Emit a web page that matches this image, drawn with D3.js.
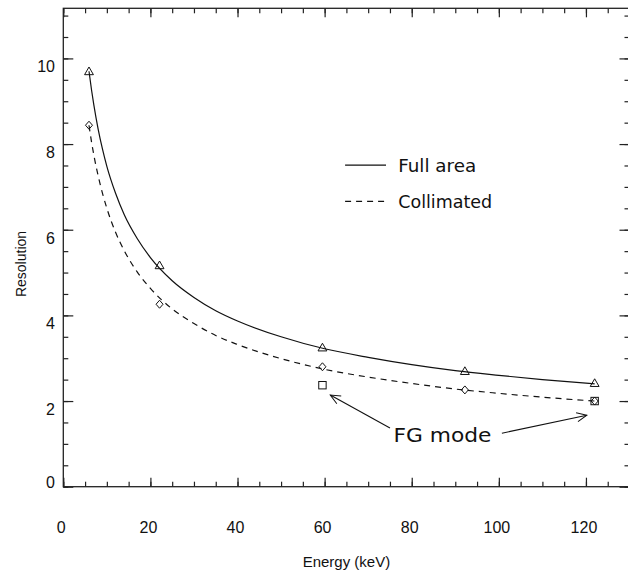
<!DOCTYPE html>
<html>
<head>
<meta charset="utf-8">
<script src="https://cdn.jsdelivr.net/npm/d3@7"></script>
<style>
  body { margin: 0; background: #fff; }
  svg { display: block; }
  .frame line, .frame path { stroke: #222; }
  .ticklab { font-family: "Liberation Sans", Arial, sans-serif; font-size: 16px; fill: #111; }
  .hershey { font-family: "DejaVu Sans", sans-serif; font-weight: normal; fill: #111; }
</style>
</head>
<body>
<svg id="chart" width="628" height="576"></svg>
<script>
// measured points (energy keV, resolution)
var pointEnergy = [5.9, 22.1, 59.5, 92.2, 122];
var fullArea   = [9.68, 5.15, 3.23, 2.68, 2.40];
var collimated = [8.44, 4.26, 2.80, 2.26, 2.00];
var fgEnergy = [59.5, 122];
var fgMode   = [2.37, 2.00];

// fitted curves
var curveEnergy = [5.9, 6.5, 7, 8, 9, 10, 12, 14, 17, 20, 25, 30, 35, 40, 50, 60, 70, 80, 90, 100, 110, 122];
var fullCurve   = [9.70, 9.25, 8.92, 8.35, 7.88, 7.48, 6.85, 6.35, 5.79, 5.35, 4.81, 4.42, 4.11, 3.87, 3.50, 3.22, 3.02, 2.85, 2.71, 2.60, 2.50, 2.40];
var collCurve   = [8.44, 8.04, 7.75, 7.26, 6.85, 6.50, 5.94, 5.51, 5.01, 4.63, 4.15, 3.81, 3.53, 3.32, 2.99, 2.74, 2.56, 2.41, 2.28, 2.18, 2.09, 2.00];

var xTicks = [0, 20, 40, 60, 80, 100, 120];
var yTicks = [0, 2, 4, 6, 8, 10];

var svg = d3.select("#chart");
var x = d3.scaleLinear().domain([0, 130]).range([63.3, 629.5]);
var y = d3.scaleLinear().domain([0, 11.17]).range([486.7, 8.3]);

var minorX = d3.range(0, 131, 5);
var minorY = d3.range(0, 11.1, 0.5);

function axisGroup(axis, tr) {
  var g = svg.append("g").attr("class", "frame").attr("transform", tr).call(axis);
  g.select(".domain").remove();
  g.selectAll("text").remove();
  g.selectAll("line").attr("stroke", "#222").attr("stroke-width", 1.2);
  return g;
}
// minor ticks
axisGroup(d3.axisBottom(x).tickValues(minorX).tickSize(-5).tickSizeOuter(0), "translate(0," + y(0) + ")");
axisGroup(d3.axisTop(x).tickValues(minorX).tickSize(-5).tickSizeOuter(0), "translate(0," + y.range()[1] + ")");
axisGroup(d3.axisLeft(y).tickValues(minorY).tickSize(-5).tickSizeOuter(0), "translate(" + x(0) + ",0)");
axisGroup(d3.axisRight(y).tickValues(minorY).tickSize(-5).tickSizeOuter(0), "translate(" + x.range()[1] + ",0)");
// major ticks
axisGroup(d3.axisBottom(x).tickValues(xTicks).tickSize(-9).tickSizeOuter(0), "translate(0," + y(0) + ")");
axisGroup(d3.axisTop(x).tickValues(xTicks).tickSize(-9).tickSizeOuter(0), "translate(0," + y.range()[1] + ")");
axisGroup(d3.axisLeft(y).tickValues(yTicks).tickSize(-10).tickSizeOuter(0), "translate(" + x(0) + ",0)");
axisGroup(d3.axisRight(y).tickValues(yTicks).tickSize(-10).tickSizeOuter(0), "translate(" + x.range()[1] + ",0)");

// frame
svg.append("rect")
  .attr("x", x(0)).attr("y", y.range()[1])
  .attr("width", x.range()[1] - x(0)).attr("height", y(0) - y.range()[1])
  .attr("fill", "none").attr("stroke", "#222").attr("stroke-width", 1.3);

// tick labels
svg.selectAll("text.xl").data(xTicks).enter().append("text")
  .attr("class", "ticklab").attr("text-anchor", "middle")
  .attr("x", function(d) { return x(d) - 2; }).attr("y", 533)
  .text(function(d) { return d; });
svg.selectAll("text.yl").data(yTicks).enter().append("text")
  .attr("class", "ticklab").attr("text-anchor", "end")
  .attr("x", 55)
  .attr("y", function(d) { return d === 0 ? y(d) + 1 : y(d) + 14; })
  .text(function(d) { return d; });

svg.append("text").attr("class", "ticklab").attr("text-anchor", "middle")
  .attr("x", x(65)).attr("y", 567).style("font-size", "15px").text("Energy (keV)");
svg.append("text").attr("class", "ticklab").attr("text-anchor", "middle")
  .attr("transform", "translate(26," + 264 + ") rotate(-90)")
  .style("font-size", "14px").text("Resolution");

// curves
var line = d3.line().curve(d3.curveMonotoneX)
  .x(function(d) { return x(d[0]); }).y(function(d) { return y(d[1]); });
svg.append("path").datum(d3.zip(curveEnergy, fullCurve)).attr("d", line)
  .attr("fill", "none").attr("stroke", "#111").attr("stroke-width", 1.2);
svg.append("path").datum(d3.zip(curveEnergy, collCurve)).attr("d", line)
  .attr("fill", "none").attr("stroke", "#111").attr("stroke-width", 1.2)
  .attr("stroke-dasharray", "6,5");

// markers
var tri = d3.symbol().type(d3.symbolTriangle).size(34);
svg.selectAll("path.tri").data(d3.zip(pointEnergy, fullArea)).enter().append("path")
  .attr("d", tri)
  .attr("transform", function(d) { return "translate(" + x(d[0]) + "," + y(d[1]) + ")"; })
  .attr("fill", "none").attr("stroke", "#111").attr("stroke-width", 1);
svg.selectAll("path.dia").data(d3.zip(pointEnergy, collimated)).enter().append("path")
  .attr("d", "M0,-4L3.5,0L0,4L-3.5,0Z")
  .attr("transform", function(d) { return "translate(" + x(d[0]) + "," + y(d[1]) + ")"; })
  .attr("fill", "none").attr("stroke", "#111").attr("stroke-width", 1);
svg.selectAll("rect.sq").data(d3.zip(fgEnergy, fgMode)).enter().append("rect")
  .attr("x", function(d) { return x(d[0]) - 3.7; })
  .attr("y", function(d) { return y(d[1]) - 3.7; })
  .attr("width", 7.4).attr("height", 7.4)
  .attr("fill", "none").attr("stroke", "#111").attr("stroke-width", 1);

// legend (data coords)
var legendRows = [
  { label: "Full area", ry: 7.51, dash: null, width: 78 },
  { label: "Collimated", ry: 6.66, dash: "6,5", width: 94 }
];
legendRows.forEach(function(r) {
  svg.append("line")
    .attr("x1", x(64.7)).attr("x2", x(74.1))
    .attr("y1", y(r.ry)).attr("y2", y(r.ry))
    .attr("stroke", "#111").attr("stroke-width", 1.2)
    .attr("stroke-dasharray", r.dash);
  svg.append("text").attr("class", "hershey")
    .attr("x", x(76.9)).attr("y", y(r.ry) + 6.5)
    .style("font-size", "17px")
    .attr("textLength", r.width).attr("lengthAdjust", "spacingAndGlyphs")
    .text(r.label);
});

// FG mode annotation
svg.append("defs").append("marker")
  .attr("id", "head").attr("markerUnits", "userSpaceOnUse")
  .attr("markerWidth", 24).attr("markerHeight", 24)
  .attr("refX", 12).attr("refY", 12).attr("orient", "auto")
  .append("path").attr("d", "M2,7.5L12,12L2,16.5")
  .attr("fill", "none").attr("stroke", "#111").attr("stroke-width", 1);

var arrows = [
  { from: [75.0, 1.37], to: [61.3, 2.14] },
  { from: [100.7, 1.25], to: [120.2, 1.67] }
];
svg.selectAll("line.arr").data(arrows).enter().append("line")
  .attr("x1", function(d) { return x(d.from[0]); }).attr("y1", function(d) { return y(d.from[1]); })
  .attr("x2", function(d) { return x(d.to[0]); }).attr("y2", function(d) { return y(d.to[1]); })
  .attr("stroke", "#111").attr("stroke-width", 1.1)
  .attr("marker-end", "url(#head)");

svg.append("text").attr("class", "hershey")
  .attr("x", x(75.8)).attr("y", 441.7)
  .style("font-size", "19px")
  .attr("textLength", 98).attr("lengthAdjust", "spacingAndGlyphs")
  .text("FG mode");
</script>
</body>
</html>
